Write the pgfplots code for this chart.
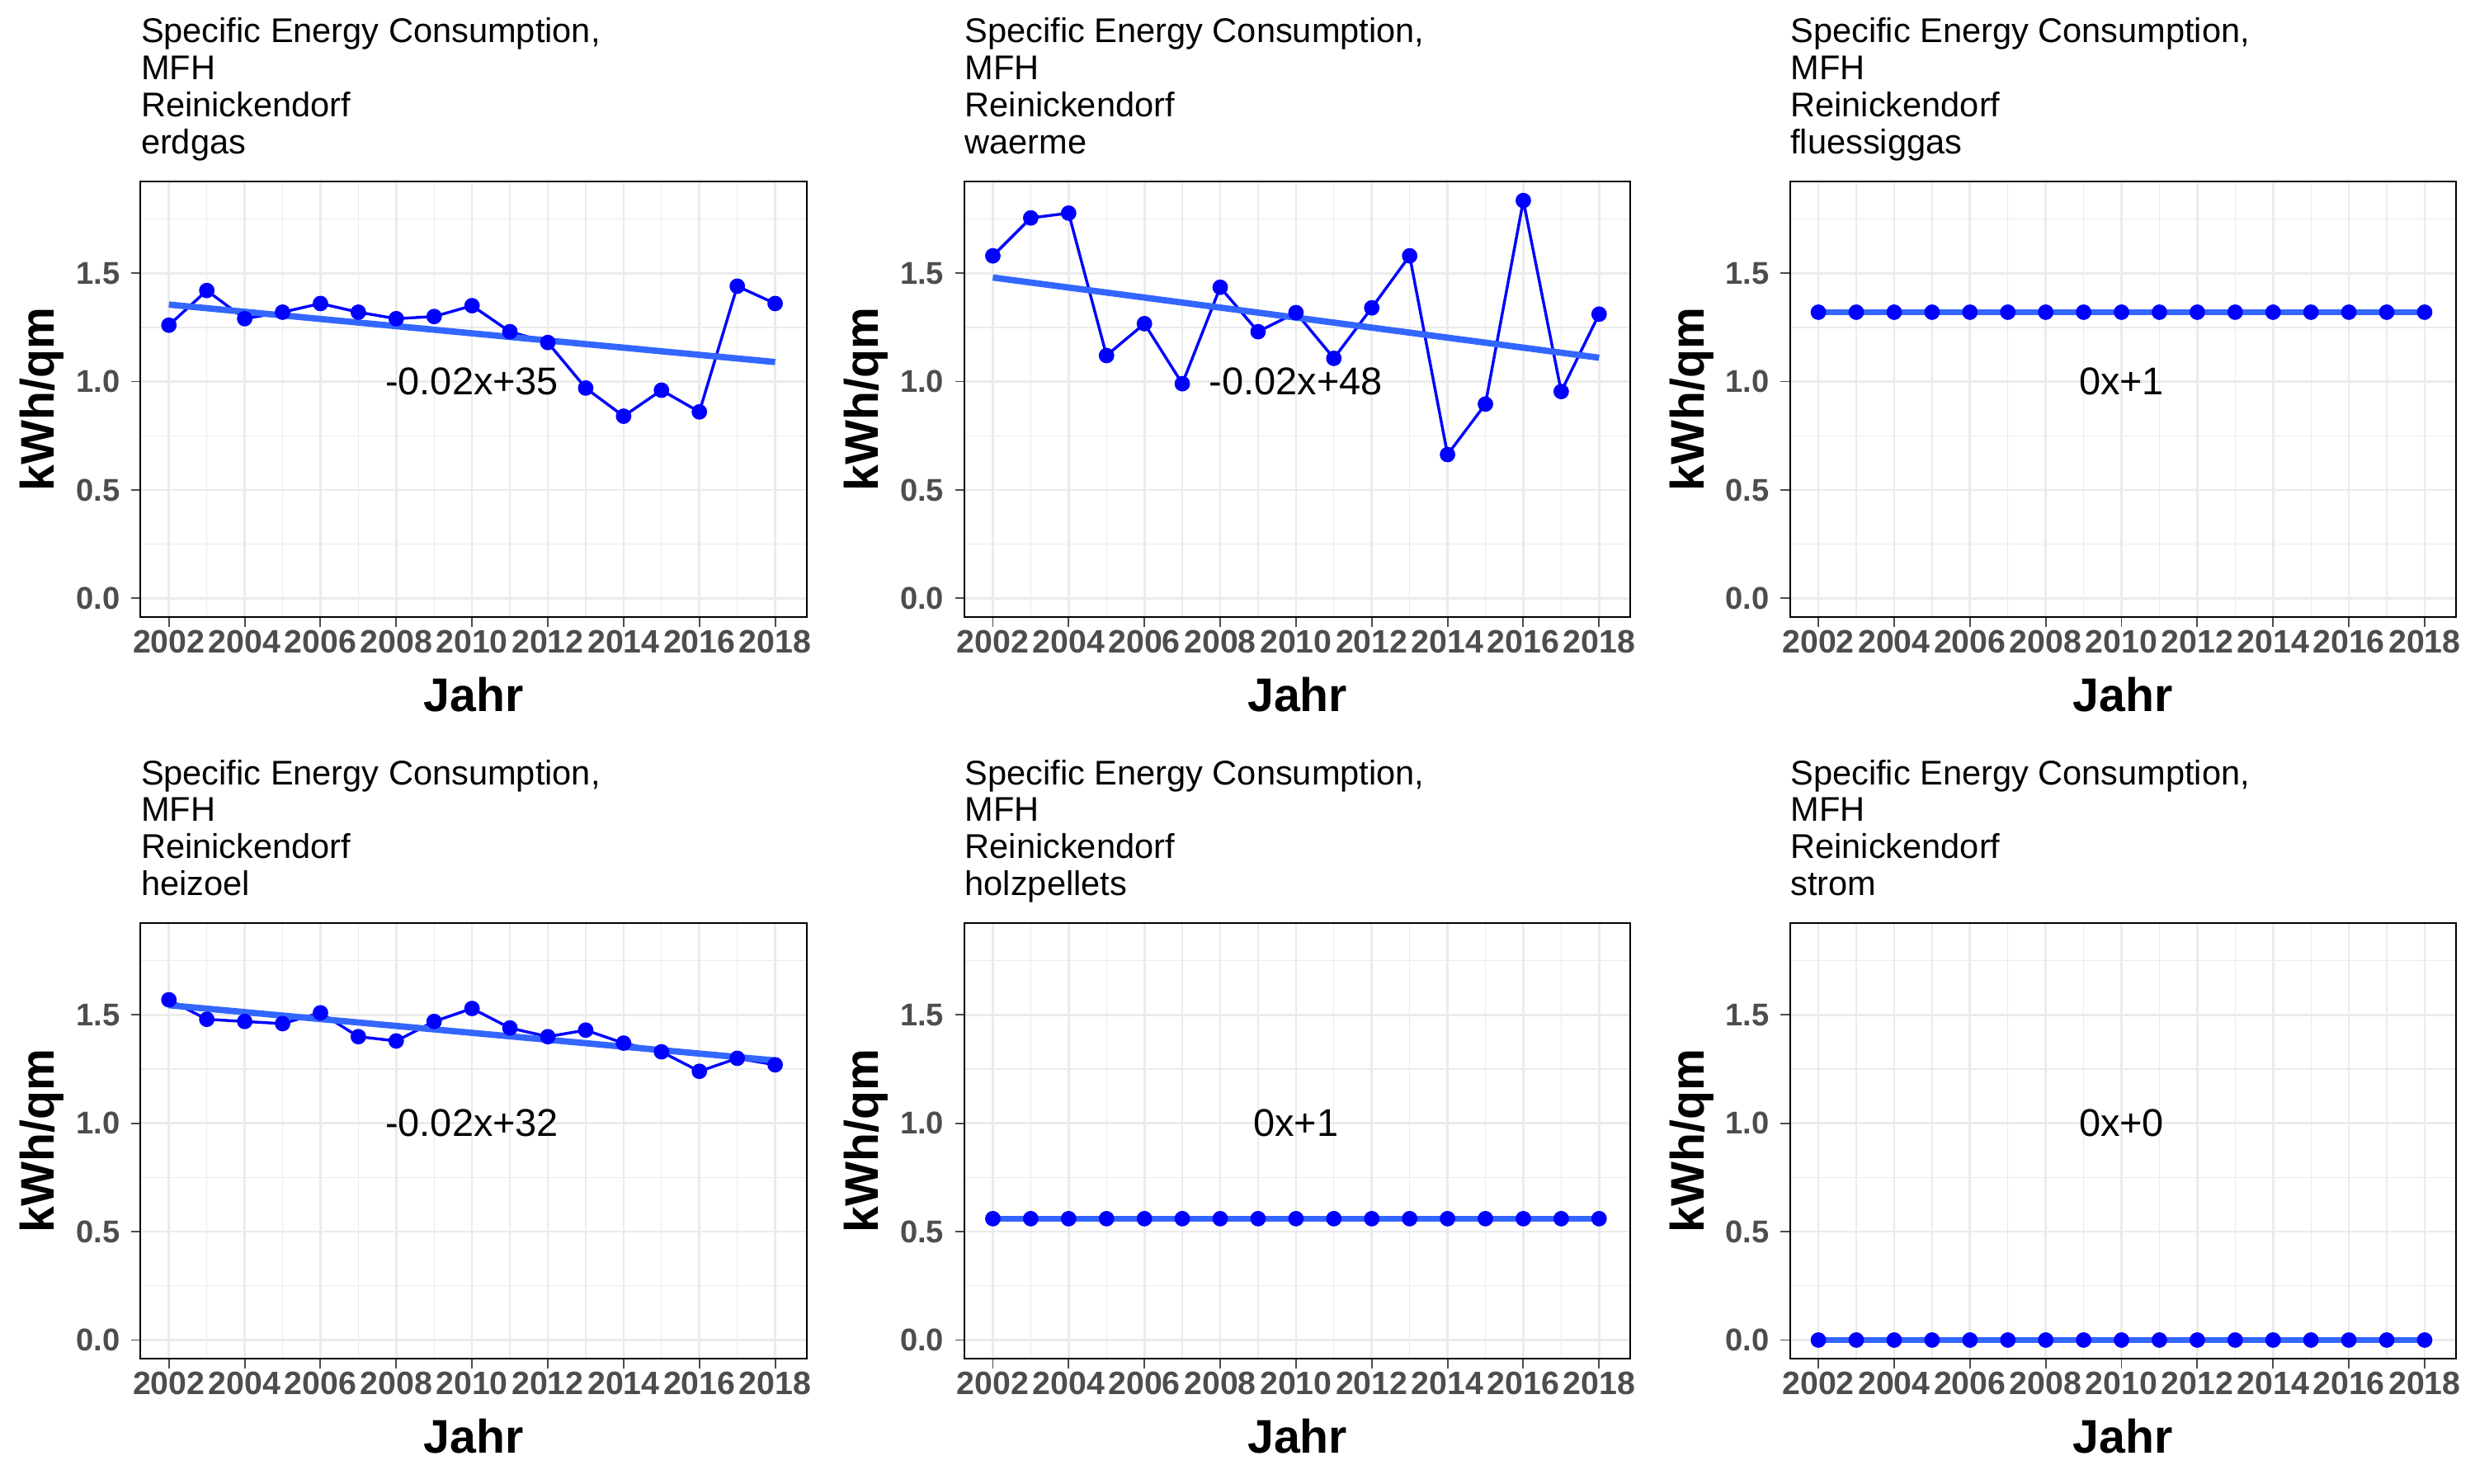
\documentclass[border=0pt]{standalone}
\usepackage{pgfplots}
\pgfplotsset{compat=1.18}
\usepackage{fontspec}
\setmainfont{Liberation Sans}
\definecolor{gridc}{HTML}{EBEBEB}
\definecolor{tickc}{HTML}{4D4D4D}
\definecolor{trend}{HTML}{3366FF}
\pgfplotsset{panel/.style={
  scale only axis, width=211bp, height=138bp, anchor=south west,
  xmin=2001.25, xmax=2018.83, ymin=-0.087, ymax=1.923,
  xtick={2002,2004,...,2018}, minor xtick={2003,2005,...,2017},
  ytick={0,0.5,1,1.5}, minor ytick={0.25,0.75,1.25,1.75},
  grid=both, major grid style={gridc, line width=0.7bp}, minor grid style={gridc, line width=0.35bp},
  tick style={tickc, line width=0.5bp}, major tick length=3bp, minor tick length=0pt,
  tick align=outside, xtick pos=bottom, ytick pos=left,
  /pgf/number format/assume math mode=true,
  xticklabel style={/pgf/number format/1000 sep={}, font=\fontsize{10.3}{11}\selectfont\bfseries, text=tickc, inner sep=1bp},
  yticklabel style={/pgf/number format/fixed, /pgf/number format/fixed zerofill, /pgf/number format/precision=1, font=\fontsize{10}{11}\selectfont\bfseries, text=tickc},
  xlabel={Jahr}, ylabel={kWh/qm},
  label style={font=\fontsize{15}{17}\selectfont\bfseries},
  xlabel style={yshift=-3bp}, ylabel style={yshift=-3bp},
  axis line style={black, line width=0.5bp},
  clip=false, axis on top=false}}
\newcommand\panel[6]{%
\begin{axis}[panel, at={(#1bp,#2bp)}]
\addplot[blue, line width=0.9bp, mark=*, mark size=2bp] coordinates {#4};
\addplot[trend, line width=2bp] coordinates {#5};
\node[font=\fontsize{12.3}{14}\selectfont] at (axis cs:2010,1.0) {#6};
\node[anchor=north west, align=left, inner sep=0pt, font=\fontsize{10.9}{11.75}\selectfont] at ([yshift=52bp]rel axis cs:0,1) {Specific Energy Consumption,\\MFH\\Reinickendorf\\#3};
\end{axis}}
\begin{document}
\begin{tikzpicture}
\path[use as bounding box] (0,0) rectangle (784bp,-470bp);
\panel{44.5}{-195.5}{erdgas}{(2002,1.26)(2003,1.42)(2004,1.29)(2005,1.32)(2006,1.36)(2007,1.32)(2008,1.29)(2009,1.30)(2010,1.35)(2011,1.23)(2012,1.18)(2013,0.97)(2014,0.84)(2015,0.96)(2016,0.86)(2017,1.44)(2018,1.36)}{(2002,1.355)(2018,1.09)}{-0.02x+35}
\panel{305.5}{-195.5}{waerme}{(2002,1.58)(2003,1.755)(2004,1.777)(2005,1.12)(2006,1.267)(2007,0.99)(2008,1.435)(2009,1.23)(2010,1.318)(2011,1.107)(2012,1.34)(2013,1.58)(2014,0.663)(2015,0.896)(2016,1.835)(2017,0.954)(2018,1.311)}{(2002,1.48)(2018,1.11)}{-0.02x+48}
\panel{567}{-195.5}{fluessiggas}{(2002,1.32)(2003,1.32)(2004,1.32)(2005,1.32)(2006,1.32)(2007,1.32)(2008,1.32)(2009,1.32)(2010,1.32)(2011,1.32)(2012,1.32)(2013,1.32)(2014,1.32)(2015,1.32)(2016,1.32)(2017,1.32)(2018,1.32)}{(2002,1.32)(2018,1.32)}{0x+1}
\panel{44.5}{-430.5}{heizoel}{(2002,1.57)(2003,1.48)(2004,1.47)(2005,1.46)(2006,1.51)(2007,1.40)(2008,1.38)(2009,1.47)(2010,1.53)(2011,1.44)(2012,1.40)(2013,1.43)(2014,1.37)(2015,1.33)(2016,1.24)(2017,1.30)(2018,1.27)}{(2002,1.545)(2018,1.29)}{-0.02x+32}
\panel{305.5}{-430.5}{holzpellets}{(2002,0.56)(2003,0.56)(2004,0.56)(2005,0.56)(2006,0.56)(2007,0.56)(2008,0.56)(2009,0.56)(2010,0.56)(2011,0.56)(2012,0.56)(2013,0.56)(2014,0.56)(2015,0.56)(2016,0.56)(2017,0.56)(2018,0.56)}{(2002,0.56)(2018,0.56)}{0x+1}
\panel{567}{-430.5}{strom}{(2002,0)(2003,0)(2004,0)(2005,0)(2006,0)(2007,0)(2008,0)(2009,0)(2010,0)(2011,0)(2012,0)(2013,0)(2014,0)(2015,0)(2016,0)(2017,0)(2018,0)}{(2002,0)(2018,0)}{0x+0}
\end{tikzpicture}
\end{document}
